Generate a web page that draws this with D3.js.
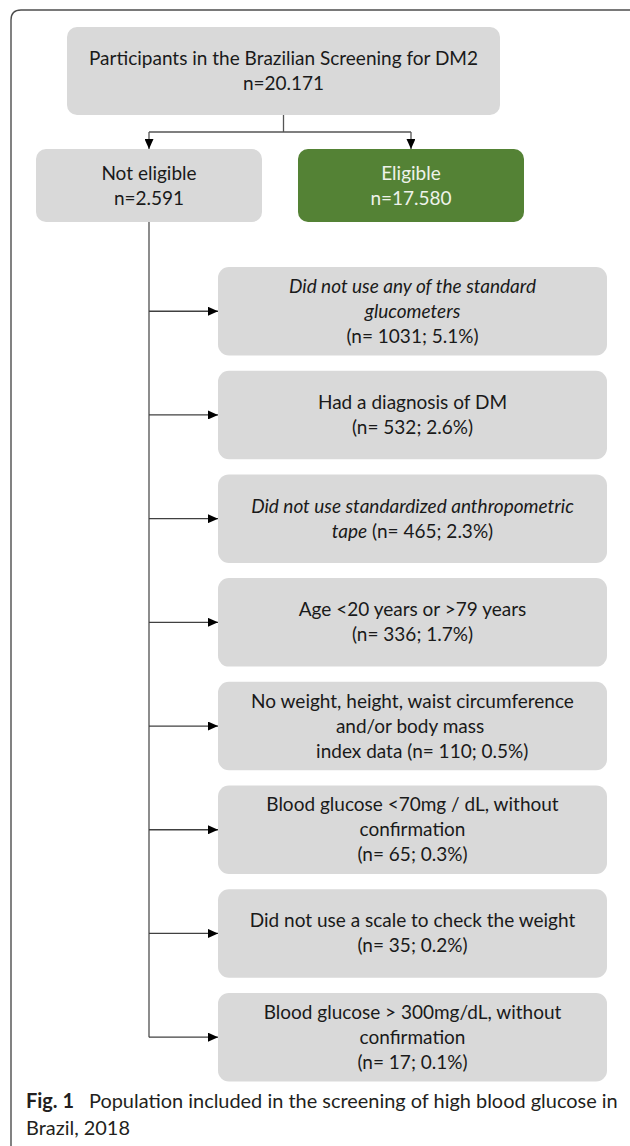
<!DOCTYPE html>
<html>
<head>
<meta charset="utf-8">
<script src="https://cdn.jsdelivr.net/npm/d3@7"></script>
<style>
html, body { margin: 0; padding: 0; background: #fff; }
svg { display: block; }
text { white-space: pre; }
</style>
</head>
<body>
<svg class="figure" width="630" height="1146"></svg>
<script>
// flow chart content
var topLines = ["Participants in the Brazilian Screening for DM2", "n={n}"];
var totalN = "20.171";
var groupNames = ["Not eligible", "Eligible"];
var groupN = ["2.591", "17.580"];
// *text* = italic
var reasonLines = [
  ["*Did not use any of the standard*", "*glucometers*", "(n= {n}; {p}%)"],
  ["Had a diagnosis of DM", "(n= {n}; {p}%)"],
  ["*Did not use standardized anthropometric*", "*tape* (n= {n}; {p}%)"],
  ["Age <20 years or >79 years", "(n= {n}; {p}%)"],
  ["No weight, height, waist circumference", "and/or body mass ", "    index data (n= {n}; {p}%)"],
  ["Blood glucose <70mg / dL, without", "confirmation", "(n= {n}; {p}%)"],
  ["Did not use a scale to check the weight", "(n= {n}; {p}%)"],
  ["Blood glucose > 300mg/dL, without", "confirmation", "(n= {n}; {p}%)"]
];
var reasonN = [1031, 532, 465, 336, 110, 65, 35, 17];
var reasonPct = ["5.1", "2.6", "2.3", "1.7", "0.5", "0.3", "0.2", "0.1"];
var captionBold = "Fig. 1";
var captionLines = ["Population included in the screening of high blood glucose in", "Brazil, 2018"];

var svg = d3.select("svg.figure");
var boxFont = "Lato, 'Open Sans', sans-serif";
var capFont = "Lato, 'Open Sans', sans-serif";
var grey = "#d9d9d9";
var green = "#548235";
var lineH = 25;

// measure a string so the font can be sized to the picture
function textWidth(str, font, size, weight) {
  var t = svg.append("text")
    .attr("font-family", font)
    .attr("font-size", size)
    .attr("font-weight", weight || "normal")
    .text(str);
  var w = t.node().getComputedTextLength();
  t.remove();
  return w;
}
var boxSize = 100 * 323 / textWidth("No weight, height, waist circumference", boxFont, 100);
var capGap = 15, capX = 26;
var capSize = 100 * (592 - capGap) / (textWidth(captionBold, capFont, 100, "bold") + textWidth(captionLines[0], capFont, 100));

// frame
svg.append("path")
  .attr("d", "M11,1146 V20 Q11,10 21,10 H630")
  .attr("fill", "none")
  .attr("stroke", "#4d4d4d")
  .attr("stroke-width", 1.4);

var defs = svg.append("defs");
defs.append("marker")
  .attr("id", "arrow")
  .attr("markerUnits", "userSpaceOnUse")
  .attr("markerWidth", 10)
  .attr("markerHeight", 9)
  .attr("refX", 10)
  .attr("refY", 4.5)
  .attr("orient", "auto")
  .append("path")
  .attr("d", "M0,0 L10,4.5 L0,9 Z")
  .attr("fill", "#000");

function fill(str, n, p) {
  return str.replace("{n}", n).replace("{p}", p);
}

// write lines centred at (cx, cy); *..* pieces are italic
function writeLines(lines, cx, cy, color) {
  var k = lines.length;
  var t = svg.append("text")
    .attr("font-family", boxFont)
    .attr("font-size", boxSize)
    .attr("fill", color)
    .attr("text-anchor", "middle");
  lines.forEach(function(line, i) {
    var row = t.append("tspan")
      .attr("x", cx)
      .attr("y", cy + 6.5 + (i - (k - 1) / 2) * lineH);
    line.split(/(\*[^*]*\*)/).filter(function(s) { return s.length; }).forEach(function(seg) {
      var it = seg.charAt(0) === "*";
      row.append("tspan")
        .attr("font-style", it ? "italic" : "normal")
        .text(it ? seg.slice(1, -1) : seg);
    });
  });
}

// top box
var topBox = {x0: 67, x1: 500, y0: 27, y1: 115};
svg.append("rect")
  .attr("x", topBox.x0).attr("y", topBox.y0)
  .attr("width", topBox.x1 - topBox.x0).attr("height", topBox.y1 - topBox.y0)
  .attr("rx", 10).attr("fill", grey);
writeLines(topLines.map(function(l) { return fill(l, totalN); }),
  (topBox.x0 + topBox.x1) / 2, (topBox.y0 + topBox.y1) / 2, "#1a1a1a");

// second row
var xGroup = d3.scaleBand().domain(groupNames).range([36, 524]).paddingInner(0.1374).paddingOuter(0);
var rowY0 = 149, rowY1 = 222, joinY = 132;
var topCx = (topBox.x0 + topBox.x1) / 2;

svg.append("line")
  .attr("x1", topCx).attr("x2", topCx)
  .attr("y1", topBox.y1).attr("y2", joinY)
  .attr("stroke", "#555").attr("stroke-width", 1.3);
svg.append("line")
  .attr("x1", xGroup(groupNames[0]) + xGroup.bandwidth() / 2)
  .attr("x2", xGroup(groupNames[1]) + xGroup.bandwidth() / 2)
  .attr("y1", joinY).attr("y2", joinY)
  .attr("stroke", "#555").attr("stroke-width", 1.3);

groupNames.forEach(function(name, i) {
  var cx = xGroup(name) + xGroup.bandwidth() / 2;
  svg.append("line")
    .attr("x1", cx).attr("x2", cx)
    .attr("y1", joinY).attr("y2", rowY0)
    .attr("stroke", "#555").attr("stroke-width", 1.3)
    .attr("marker-end", "url(#arrow)");
  svg.append("rect")
    .attr("x", xGroup(name)).attr("y", rowY0)
    .attr("width", xGroup.bandwidth()).attr("height", rowY1 - rowY0)
    .attr("rx", 10)
    .attr("fill", i === 0 ? grey : green);
  writeLines([name, "n=" + groupN[i]], cx, (rowY0 + rowY1) / 2, i === 0 ? "#1a1a1a" : "#eef2ea");
});

// exclusion boxes
var yReason = d3.scaleBand().domain(d3.range(reasonLines.length))
  .range([267, 1081.4]).paddingInner(0.1466).paddingOuter(0);
var boxX0 = 218, boxX1 = 607;
var stemX = xGroup(groupNames[0]) + xGroup.bandwidth() / 2;
var lastY = yReason(reasonLines.length - 1) + yReason.bandwidth() / 2;

svg.append("line")
  .attr("x1", stemX).attr("x2", stemX)
  .attr("y1", rowY1).attr("y2", lastY)
  .attr("stroke", "#808080").attr("stroke-width", 1.8);

reasonLines.forEach(function(lines, i) {
  var y0 = yReason(i), cy = y0 + yReason.bandwidth() / 2;
  svg.append("line")
    .attr("x1", stemX).attr("x2", boxX0)
    .attr("y1", cy).attr("y2", cy)
    .attr("stroke", "#404040").attr("stroke-width", 1.3)
    .attr("marker-end", "url(#arrow)");
  svg.append("rect")
    .attr("x", boxX0).attr("y", y0)
    .attr("width", boxX1 - boxX0).attr("height", yReason.bandwidth())
    .attr("rx", 11).attr("fill", grey);
  writeLines(lines.map(function(l) { return fill(l, reasonN[i], reasonPct[i]); }),
    (boxX0 + boxX1) / 2, cy, "#1a1a1a");
});

// caption
var cap = svg.append("g")
  .attr("font-family", capFont)
  .attr("font-size", capSize)
  .attr("fill", "#231f20");
var boldW = textWidth(captionBold, capFont, capSize, "bold");
cap.append("text").attr("x", capX).attr("y", 1108)
  .attr("font-weight", "bold").text(captionBold);
cap.append("text").attr("x", capX + boldW + capGap).attr("y", 1108)
  .text(captionLines[0]);
cap.append("text").attr("x", capX).attr("y", 1135)
  .text(captionLines[1]);
</script>
</body>
</html>
